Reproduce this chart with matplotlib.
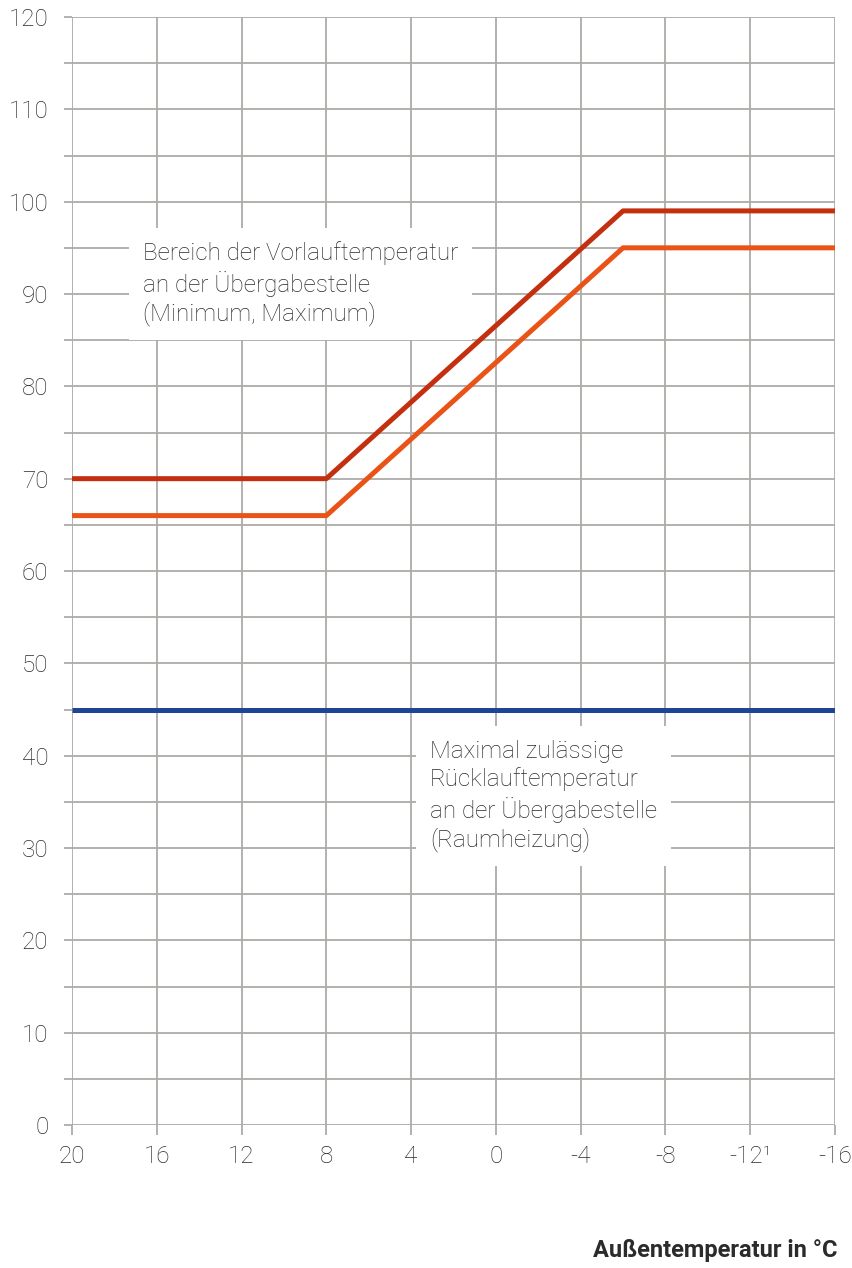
import matplotlib.pyplot as plt
from matplotlib.ticker import MultipleLocator

# outdoor temperature break points (x axis runs from warm to cold)
outdoor_temp = [20, 8, -6, -16]
flow_max = [70, 70, 99, 99]
flow_min = [66, 66, 95, 95]
return_max = [45, 45, 45, 45]

x_ticks = [20, 16, 12, 8, 4, 0, -4, -8, -12, -16]
x_ticklabels = ["20", "16", "12", "8", "4", "0", "-4", "-8", "-12¹", "-16"]
y_ticks = [0, 10, 20, 30, 40, 50, 60, 70, 80, 90, 100, 110, 120]

grid_col = "#aeaba8"
text_col = "#2b2b2b"
plt.rcParams["font.family"] = ["Roboto", "DejaVu Sans"]

fig = plt.figure(figsize=(8.53, 12.68), dpi=100)
ax = fig.add_axes([72 / 853, 1 - 1125 / 1268, (835 - 72) / 853, (1125 - 17) / 1268])

ax.plot(outdoor_temp, flow_max, color="#c4300f", lw=3.6, solid_capstyle="butt", zorder=5)
ax.plot(outdoor_temp, flow_min, color="#ea5317", lw=3.6, solid_capstyle="butt", zorder=5)
ax.plot(outdoor_temp, return_max, color="#1e4496", lw=3.6, solid_capstyle="butt", zorder=5)

ax.set_xlim(20, -16)
ax.set_ylim(0, 120)
ax.set_xticks(x_ticks)
ax.set_xticklabels(x_ticklabels)
ax.set_yticks(y_ticks)
ax.yaxis.set_minor_locator(MultipleLocator(5))

for s in ax.spines.values():
    s.set_visible(False)

ax.grid(True, which="both", color=grid_col, lw=1.3, zorder=0)
ax.set_axisbelow(True)
ax.tick_params(axis="y", which="both", length=6, width=1.3, color=grid_col, pad=11,
               labelsize=17.5, labelcolor=text_col)
ax.tick_params(axis="x", which="both", length=7.5, width=1.3, color=grid_col, pad=7,
               labelsize=17.5, labelcolor=text_col)
for lbl in ax.get_xticklabels() + ax.get_yticklabels():
    lbl.set_fontweight("light")

box = dict(facecolor="white", edgecolor="none", pad=10)
ax.text(16.65, 95.7, "Bereich der Vorlauftemperatur\nan der Übergabestelle\n(Minimum, Maximum)",
        fontsize=17.5, fontweight="light", color=text_col, linespacing=1.26,
        va="top", ha="left", bbox=box, zorder=4)
ax.text(3.1, 41.75, "Maximal zulässige\nRücklauftemperatur\nan der Übergabestelle\n(Raumheizung)",
        fontsize=17.5, fontweight="light", color=text_col, linespacing=1.26,
        va="top", ha="left", bbox=box, zorder=4)

fig.text(838 / 853, 1 - 1250 / 1268, "Außentemperatur in °C", fontsize=17,
         fontweight="bold", color=text_col, ha="right", va="center")

fig.savefig("out.png", dpi=100, facecolor="white")
